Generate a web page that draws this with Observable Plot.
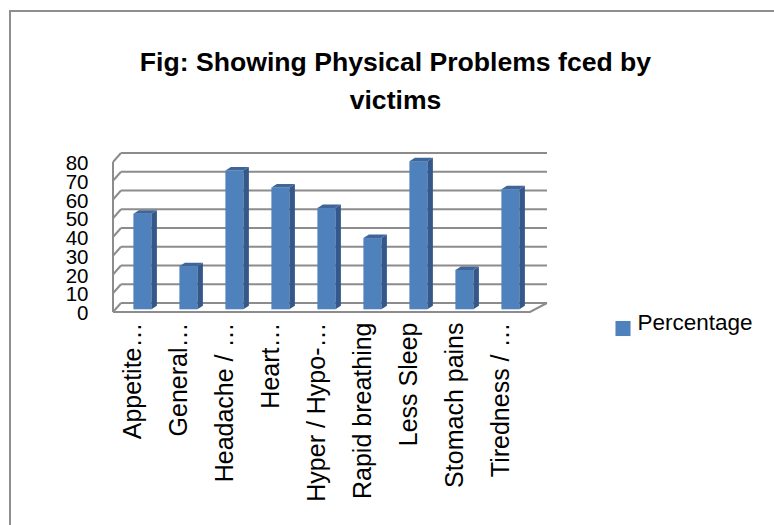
<!DOCTYPE html>
<html>
<head>
<meta charset="utf-8">
<script src="https://cdn.jsdelivr.net/npm/d3@7"></script>
<script src="https://cdn.jsdelivr.net/npm/@observablehq/plot@0.6"></script>
<style>
  html, body { margin: 0; padding: 0; background: #fff; }
  #wrap { position: relative; width: 774px; height: 525px; overflow: hidden; background: #fff; }
  #frame { position: absolute; left: 9px; top: 10px; width: 900px; height: 700px; border: 2px solid #8e8e8e; box-sizing: border-box; }
  #chart { position: absolute; left: 0; top: 0; }
</style>
</head>
<body>
<div id="wrap"><div id="frame"></div><div id="chart"></div></div>
<script>
const titleText = "Fig: Showing Physical Problems fced by\nvictims";
const seriesName = "Percentage";
const categories = ["Appetite…", "General…", "Headache / …", "Heart…", "Hyper / Hypo-…", "Rapid breathing", "Less Sleep", "Stomach pains", "Tiredness / …"];
const percentages = [51, 23, 74, 65, 54, 38, 79, 21, 64];
const yTicks = [0, 10, 20, 30, 40, 50, 60, 70, 80];

const data = categories.map((c, i) => ({category: c, value: percentages[i]}));

const FONT = "'Liberation Sans', Arial, sans-serif";
const BLUE = "#4f81bd", SIDE = "#35588a", TOPC = "#3f6699", GRID = "#8c8c8c";
const BAR_DX = 2.4, BAR_DY = -2.7;   // bar plane offset from front plane
const DEPTH_DX = 5.5, DEPTH_DY = -3.5; // bar depth
const WALL_DY = -9;

function walls(index, scales, values, dims) {
  const y = scales.y;
  const r0 = dims.marginLeft, r1 = dims.width - dims.marginRight;
  const fx0 = r0 - 3, fx1 = r1 - 2;
  const bx0 = fx0 + 8, bx1 = fx1 + 17;
  const g = d3.create("svg:g").attr("fill", "none").attr("stroke", GRID).attr("stroke-width", 2);
  const yTop = y(yTicks[yTicks.length - 1]);
  g.append("line").attr("x1", fx0).attr("x2", fx0).attr("y1", y(0)).attr("y2", yTop);
  for (const t of yTicks) {
    const yy = y(t);
    g.append("line").attr("x1", fx0).attr("y1", yy).attr("x2", bx0).attr("y2", yy + WALL_DY);
    g.append("line").attr("x1", bx0).attr("y1", yy + WALL_DY).attr("x2", bx1).attr("y2", yy + WALL_DY);
  }
  g.append("path").attr("d", `M${fx0},${y(0)}H${fx1}L${bx1},${y(0) + WALL_DY}`);
  return g.node();
}

function barFaces(index, scales) {
  const {x, y} = scales;
  const bw = x.bandwidth();
  const g = d3.create("svg:g");
  data.forEach(d => {
    const x0 = x(d.category) + BAR_DX, x1 = x0 + bw;
    const yt = y(d.value) + BAR_DY, yb = y(0) + BAR_DY;
    g.append("path")
      .attr("d", `M${x1},${yb}L${x1 + DEPTH_DX},${yb + DEPTH_DY}V${yt + DEPTH_DY}L${x1},${yt}Z`)
      .attr("fill", SIDE);
    g.append("path")
      .attr("d", `M${x0},${yt}L${x0 + DEPTH_DX},${yt + DEPTH_DY}H${x1 + DEPTH_DX}L${x1},${yt}Z`)
      .attr("fill", TOPC);
  });
  return g.node();
}

const chart = Plot.plot({
  width: 774,
  height: 525,
  marginLeft: 116,
  marginRight: 242,
  marginTop: 162,
  marginBottom: 213,
  style: {fontFamily: FONT, background: "transparent", overflow: "visible"},
  x: {type: "band", domain: categories, paddingInner: 0.6, paddingOuter: 0.3, axis: null},
  y: {domain: [0, 80], axis: null},
  marks: [
    walls,
    Plot.barY(data, {x: "category", y: "value", fill: BLUE, dx: BAR_DX, dy: BAR_DY}),
    barFaces,
    Plot.text(yTicks, {y: d => d, text: d => String(d), frameAnchor: "left", textAnchor: "end", dx: -28, dy: 1, fontSize: 20.5, fill: "#000"}),
    Plot.text(data, {x: "category", text: "category", frameAnchor: "bottom", rotate: -90, textAnchor: "end", dy: 10, fontSize: 25, fill: "#000"}),
    Plot.text([titleText], {text: d => d, frameAnchor: "top", dx: 71, dy: -119.5, lineAnchor: "top", lineHeight: 1.46, fontSize: 26.6, fontWeight: "bold", fill: "#000"}),
    Plot.dot([seriesName], {frameAnchor: "bottom-right", symbol: "square", r: 8.5, fill: BLUE, stroke: null, dx: 90.5, dy: 16}),
    Plot.text([seriesName], {text: d => d, frameAnchor: "bottom-right", textAnchor: "start", dx: 105, dy: 17, fontSize: 22.5, fill: "#000"})
  ]
});
document.getElementById("chart").appendChild(chart);
</script>
</body>
</html>
